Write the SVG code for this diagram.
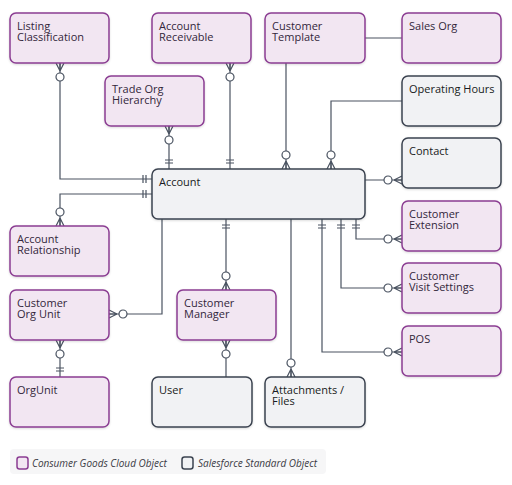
<svg xmlns="http://www.w3.org/2000/svg" xmlns:xlink="http://www.w3.org/1999/xlink" width="512" height="485" viewBox="0 0 512 485">
<style>
.cg{fill:#f2e6f2;stroke:#8b3d92;stroke-width:1.5}
.sf{fill:#f1f2f4;stroke:#3b4350;stroke-width:1.5}
.t{font-family:"Open Sans","Noto Sans",sans-serif;font-size:11px;fill:#33263b}
.ts{font-family:"Open Sans","Noto Sans",sans-serif;font-size:11px;fill:#181b21}
.ln{fill:none;stroke:#4a5361;stroke-width:1.2}
.lg{font-family:"Open Sans","Noto Sans",sans-serif;font-size:10px;font-style:italic;fill:#3a3a44}
</style>
<defs>
<filter id="sh" x="-10%" y="-10%" width="130%" height="140%">
<feDropShadow dx="0" dy="1" stdDeviation="1" flood-color="#000" flood-opacity="0.15"/>
</filter>
<g id="zm">
<path d="M-8,0 L0,-4 M-8,0 L0,4 M-8,0 L0,0" fill="none" stroke="#4a5361" stroke-width="1.2"/>
<circle cx="-14" cy="0" r="4" fill="#fff" stroke="#4a5361" stroke-width="1.2"/>
</g>
<g id="one">
<path d="M-6,-4 V4 M-9,-4 V4" fill="none" stroke="#4a5361" stroke-width="1.2"/>
</g>
</defs>
<rect width="512" height="485" fill="#fff"/>

<g id="connectors">
<path class="ln" d="M60,63 V179 H152"/>
<path class="ln" d="M152,194 H60 V226"/>
<path class="ln" d="M169,126 V169"/>
<path class="ln" d="M230,63 V169"/>
<path class="ln" d="M286,63 V169"/>
<path class="ln" d="M365,38 H402"/>
<path class="ln" d="M402,101 H331 V169"/>
<path class="ln" d="M365,180 H402"/>
<path class="ln" d="M356,219 V239 H402"/>
<path class="ln" d="M341,219 V288 H402"/>
<path class="ln" d="M322,219 V352 H402"/>
<path class="ln" d="M291,219 V377"/>
<path class="ln" d="M226,219 V290"/>
<path class="ln" d="M162,219 V314 H109"/>
<path class="ln" d="M60,340 V377"/>
<path class="ln" d="M226,340 V377"/>
<use href="#zm" transform="translate(60,63) rotate(-90)"/>
<use href="#one" transform="translate(152,179)"/>
<use href="#one" transform="translate(152,194)"/>
<use href="#zm" transform="translate(60,226) rotate(90)"/>
<use href="#zm" transform="translate(169,126) rotate(-90)"/>
<use href="#one" transform="translate(169,169) rotate(90)"/>
<use href="#zm" transform="translate(230,63) rotate(-90)"/>
<use href="#one" transform="translate(230,169) rotate(90)"/>
<use href="#zm" transform="translate(286,169) rotate(90)"/>
<use href="#zm" transform="translate(331,169) rotate(90)"/>
<use href="#zm" transform="translate(402,180)"/>
<use href="#one" transform="translate(356,219) rotate(-90)"/>
<use href="#zm" transform="translate(402,239)"/>
<use href="#one" transform="translate(341,219) rotate(-90)"/>
<use href="#zm" transform="translate(402,288)"/>
<use href="#one" transform="translate(322,219) rotate(-90)"/>
<use href="#zm" transform="translate(402,352)"/>
<use href="#zm" transform="translate(291,377) rotate(90)"/>
<use href="#one" transform="translate(226,219) rotate(-90)"/>
<use href="#zm" transform="translate(226,290) rotate(90)"/>
<use href="#zm" transform="translate(109,314) rotate(180)"/>
<use href="#zm" transform="translate(60,340) rotate(-90)"/>
<use href="#one" transform="translate(60,377) rotate(90)"/>
<use href="#zm" transform="translate(226,340) rotate(-90)"/>
</g>

<g id="listing-classification"><rect class="cg" filter="url(#sh)" x="10" y="13" width="99" height="50" rx="6"/><text class="t" x="17" y="30">Listing<tspan x="17" dy="11">Classification</tspan></text></g>
<g id="account-receivable"><rect class="cg" filter="url(#sh)" x="152" y="13" width="99" height="50" rx="6"/><text class="t" x="159" y="30">Account<tspan x="159" dy="11">Receivable</tspan></text></g>
<g id="customer-template"><rect class="cg" filter="url(#sh)" x="265" y="13" width="100" height="50" rx="6"/><text class="t" x="272" y="30">Customer<tspan x="272" dy="11">Template</tspan></text></g>
<g id="sales-org"><rect class="cg" filter="url(#sh)" x="402" y="13" width="99" height="50" rx="6"/><text class="t" x="409" y="30">Sales Org</text></g>
<g id="trade-org-hierarchy"><rect class="cg" filter="url(#sh)" x="105" y="76" width="99" height="50" rx="6"/><text class="t" x="112" y="93">Trade Org<tspan x="112" dy="11">Hierarchy</tspan></text></g>
<g id="operating-hours"><rect class="sf" filter="url(#sh)" x="402" y="76" width="99" height="50" rx="6"/><text class="ts" x="409" y="93">Operating Hours</text></g>
<g id="contact"><rect class="sf" filter="url(#sh)" x="402" y="138" width="99" height="50" rx="6"/><text class="ts" x="409" y="155">Contact</text></g>
<g id="account"><rect class="sf" filter="url(#sh)" x="152" y="169" width="213" height="50" rx="6"/><text class="ts" x="159" y="186">Account</text></g>
<g id="customer-extension"><rect class="cg" filter="url(#sh)" x="402" y="201" width="99" height="50" rx="6"/><text class="t" x="409" y="218">Customer<tspan x="409" dy="11">Extension</tspan></text></g>
<g id="account-relationship"><rect class="cg" filter="url(#sh)" x="10" y="226" width="99" height="50" rx="6"/><text class="t" x="17" y="243">Account<tspan x="17" dy="11">Relationship</tspan></text></g>
<g id="customer-visit-settings"><rect class="cg" filter="url(#sh)" x="402" y="263" width="99" height="50" rx="6"/><text class="t" x="409" y="280">Customer<tspan x="409" dy="11">Visit Settings</tspan></text></g>
<g id="customer-org-unit"><rect class="cg" filter="url(#sh)" x="10" y="290" width="99" height="50" rx="6"/><text class="t" x="17" y="307">Customer<tspan x="17" dy="11">Org Unit</tspan></text></g>
<g id="customer-manager"><rect class="cg" filter="url(#sh)" x="177" y="290" width="99" height="50" rx="6"/><text class="t" x="184" y="307">Customer<tspan x="184" dy="11">Manager</tspan></text></g>
<g id="pos"><rect class="cg" filter="url(#sh)" x="402" y="326" width="99" height="50" rx="6"/><text class="t" x="409" y="343">POS</text></g>
<g id="orgunit"><rect class="cg" filter="url(#sh)" x="10" y="377" width="99" height="50" rx="6"/><text class="t" x="17" y="394">OrgUnit</text></g>
<g id="user"><rect class="sf" filter="url(#sh)" x="152" y="377" width="100" height="50" rx="6"/><text class="ts" x="159" y="394">User</text></g>
<g id="attachments-files"><rect class="sf" filter="url(#sh)" x="265" y="377" width="100" height="50" rx="6"/><text class="ts" x="272" y="394">Attachments /<tspan x="272" dy="11">Files</tspan></text></g>

<g id="legend">
<rect x="10" y="449" width="316" height="25" rx="4" fill="#f6f6f7"/>
<rect class="cg" x="17" y="457" width="11" height="12" rx="2.5" stroke-width="1.2"/>
<text class="lg" x="32" y="467">Consumer Goods Cloud Object</text>
<rect class="sf" x="182" y="457" width="11" height="12" rx="2.5" stroke-width="1.2"/>
<text class="lg" x="198" y="467">Salesforce Standard Object</text>
</g>
</svg>
